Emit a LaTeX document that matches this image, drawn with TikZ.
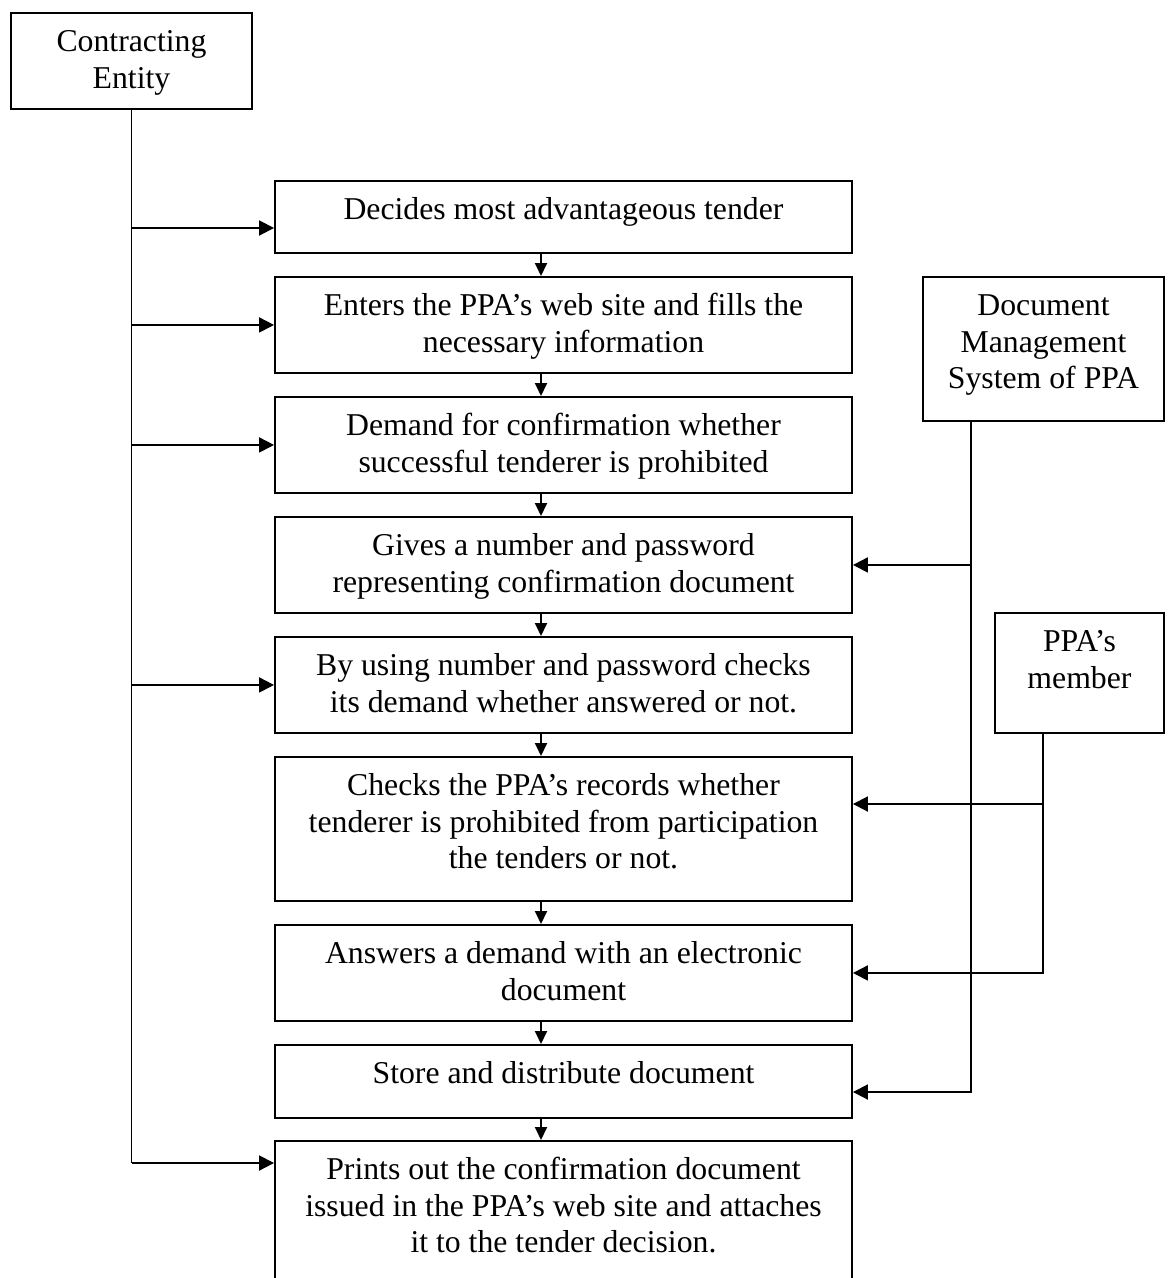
\documentclass[tikz,border=0pt]{standalone}
\usepackage{fontspec}
\setmainfont{Liberation Serif}
\usetikzlibrary{arrows.meta}

% Box contents: fixed width and height, lines centred, first baseline 39pt below the top
\newcommand{\boxlines}[3]{\parbox[t][#2][t]{#1}{\centering\rule{0pt}{39pt}#3}}

\tikzset{
  stage/.style={draw, line width=1.9pt, inner sep=0pt, anchor=north,
    font=\fontsize{31.75pt}{36.5pt}\selectfont},
  link/.style={line width=1.9pt},
  sidearr/.style={link, -{Triangle[length=15pt,width=15pt]}},
  downarr/.style={link, -{Triangle[length=13pt,width=12pt]}},
}

\begin{document}
\begin{tikzpicture}[x=1pt, y=-1pt]
  \useasboundingbox (0,0) rectangle (1171,1278);

  % actors
  \node[stage] (ce)  at (131.5,12)  {\boxlines{241pt}{96pt}{Contracting\\Entity}};
  \node[stage] (dms) at (1043.5,276) {\boxlines{241pt}{144pt}{Document\\Management\\System of PPA}};
  \node[stage] (ppa) at (1079.5,612) {\boxlines{169pt}{120pt}{PPA’s\\member}};

  % procedure steps
  \node[stage] (b1) at (563.5,180)  {\boxlines{577pt}{72pt}{Decides most advantageous tender}};
  \node[stage] (b2) at (563.5,276)  {\boxlines{577pt}{96pt}{Enters the PPA’s web site and fills the\\necessary information}};
  \node[stage] (b3) at (563.5,396)  {\boxlines{577pt}{96pt}{Demand for confirmation whether\\successful tenderer is prohibited}};
  \node[stage] (b4) at (563.5,516)  {\boxlines{577pt}{96pt}{Gives a number and password\\representing confirmation document}};
  \node[stage] (b5) at (563.5,636)  {\boxlines{577pt}{96pt}{By using number and password checks\\its demand whether answered or not.}};
  \node[stage] (b6) at (563.5,756)  {\boxlines{577pt}{144pt}{Checks the PPA’s records whether\\tenderer is prohibited from participation\\the tenders or not.}};
  \node[stage] (b7) at (563.5,924)  {\boxlines{577pt}{96pt}{Answers a demand with an electronic\\document}};
  \node[stage] (b8) at (563.5,1044) {\boxlines{577pt}{73pt}{Store and distribute document}};
  \node[stage] (b9) at (563.5,1140) {\boxlines{577pt}{170pt}{Prints out the confirmation document\\issued in the PPA’s web site and attaches\\it to the tender decision.}};

  % flow between steps
  \foreach \a/\b in {b1/b2,b2/b3,b3/b4,b4/b5,b5/b6,b6/b7,b7/b8,b8/b9}
    \draw[downarr] (\a.south -| 541,0) -- (\b.north -| 541,0);

  % contracting entity bus
  \draw[link] (ce.south) -- (ce.south |- 0,1163);
  \draw[sidearr] (ce.south |- 0,228) -- (b1.west |- 0,228);
  \draw[sidearr] (ce.south |- b2.west) -- (b2.west);
  \draw[sidearr] (ce.south |- b3.west) -- (b3.west);
  \draw[sidearr] (ce.south |- b5.west) -- (b5.west);
  \draw[sidearr] (ce.south |- 0,1163) -- (b9.west |- 0,1163);

  % document management system bus
  \path (dms.south west) ++(49,0) coordinate (dmsbus);
  \draw[sidearr] (dmsbus) |- (b8.east |- 0,1092);
  \draw[sidearr] (dmsbus |- b4.east) -- (b4.east);

  % PPA member bus
  \path (ppa.south west) ++(49,0) coordinate (ppabus);
  \draw[sidearr] (ppabus) |- (b7.east);
  \draw[sidearr] (ppabus |- 0,804) -- (b6.east |- 0,804);
\end{tikzpicture}
\end{document}
